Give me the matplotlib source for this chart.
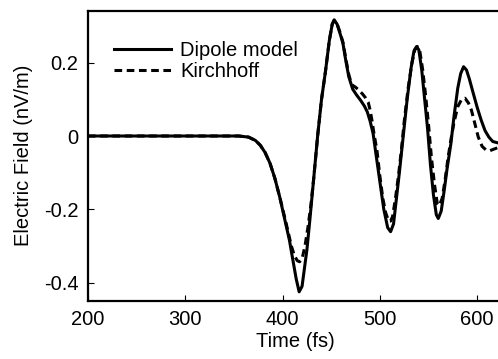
import matplotlib
matplotlib.use("Agg")
import matplotlib.pyplot as plt

plt.rcParams['font.family'] = ['Liberation Sans', 'DejaVu Sans']
plt.rcParams['axes.unicode_minus'] = False

# Dipole model (solid)
t_dipole = [200, 340, 355, 365, 372, 377, 382, 387, 392, 397, 402, 407, 411, 414, 417,
            420, 425, 428, 432, 436, 440, 444, 448, 451, 453, 456, 459, 462, 465, 468,
            472, 476, 480, 484, 487, 490, 493, 496, 500, 504, 508, 511, 514, 517, 520,
            524, 528, 532, 535, 537.7, 540, 543, 546, 549, 552, 555, 558, 560, 563, 566,
            569, 573, 576, 580, 583, 586, 589, 592, 596, 600, 604, 608, 612, 616, 623]
v_dipole = [0, 0, 0, -0.003, -0.012, -0.025, -0.045, -0.074, -0.115, -0.166, -0.225, -0.284, -0.345, -0.39, -0.425,
            -0.41, -0.31, -0.229, -0.115, 0.0, 0.10, 0.175, 0.26, 0.305, 0.317, 0.305, 0.28, 0.253, 0.205, 0.162,
            0.128, 0.112, 0.098, 0.082, 0.066, 0.04, 0.007, -0.05, -0.125, -0.2, -0.25, -0.261, -0.24, -0.17, -0.10,
            0.0, 0.10, 0.185, 0.232, 0.244, 0.235, 0.18, 0.10, 0.02, -0.08, -0.16, -0.215, -0.225, -0.205, -0.15,
            -0.09, -0.02, 0.05, 0.13, 0.17, 0.189, 0.18, 0.155, 0.116, 0.078, 0.044, 0.015, -0.003, -0.015, -0.02]

# Kirchhoff (dashed)
t_kirch = [200, 340, 355, 365, 372, 377, 382, 387, 392, 397, 402, 406, 409, 412, 415, 417.5,
           420, 423, 426, 429, 432, 436, 440, 444, 448, 451, 453, 456, 459, 462, 465, 468,
           471, 475, 478, 482, 485, 488, 490, 492, 494, 497, 500, 503, 506, 509, 511, 513, 516, 519,
           522, 525, 529, 533, 536, 538.5, 541, 544, 547, 550, 553, 556, 559, 561, 564, 567,
           570, 573, 576, 580, 584, 587.5, 591, 594, 597, 601, 605, 609, 613, 617, 623]
v_kirch = [0, 0, 0, -0.003, -0.012, -0.025, -0.045, -0.074, -0.115, -0.166, -0.22, -0.265, -0.30, -0.325, -0.34, -0.343,
           -0.335, -0.30, -0.25, -0.19, -0.115, 0.0, 0.10, 0.175, 0.26, 0.305, 0.315, 0.306, 0.283, 0.256, 0.21, 0.168,
           0.14, 0.133, 0.126, 0.115, 0.105, 0.092, 0.07, 0.04, 0.005, -0.04, -0.11, -0.17, -0.21, -0.232, -0.232, -0.22, -0.17, -0.11,
           -0.04, 0.04, 0.13, 0.2, 0.236, 0.244, 0.232, 0.18, 0.11, 0.03, -0.06, -0.13, -0.185, -0.19, -0.17, -0.12,
           -0.06, -0.01, 0.035, 0.08, 0.1, 0.103, 0.09, 0.071, 0.04, -0.002, -0.028, -0.038, -0.04, -0.036, -0.03]

x_ticks = [200, 300, 400, 500, 600]
x_ticklabels = ["200", "300", "400", "500", "600"]
y_ticks = [-0.4, -0.2, 0, 0.2]
y_ticklabels = ["-0.4", "-0.2", "0", "0.2"]

W, H = 498, 359
fig = plt.figure(figsize=(W / 100, H / 100), dpi=100)
ax = fig.add_axes([88 / W, (H - 300.6) / H, 414 / W, (300.6 - 11) / H])

ax.plot(t_dipole, v_dipole, color='black', lw=2.2, label='Dipole model', solid_joinstyle='round')
ax.plot(t_kirch, v_kirch, color='black', lw=2.2, dashes=(2.5, 1.5), label='Kirchhoff')

ax.set_xlim(200, 200 + 414 / 0.973)
ax.set_ylim(-0.449, 0.341)
ax.set_xticks(x_ticks)
ax.set_xticklabels(x_ticklabels)
ax.set_yticks(y_ticks)
ax.set_yticklabels(y_ticklabels)
ax.tick_params(direction='in', length=4.5, width=0.8, labelsize=14.5, pad=7)
ax.spines['right'].set_visible(False)
for s in ['left', 'bottom', 'top']:
    ax.spines[s].set_linewidth(1.6)

ax.set_xlabel('Time (fs)', fontsize=14.5, labelpad=2)
ax.set_ylabel('Electric Field (nV/m)', fontsize=14.5, labelpad=8)

ax.legend(loc='upper left', bbox_to_anchor=(0.064, 0.895), frameon=False, fontsize=14.5,
          handlelength=2.8, handletextpad=0.45, labelspacing=0.1, borderpad=0, borderaxespad=0)

fig.savefig('out.png', dpi=100)
